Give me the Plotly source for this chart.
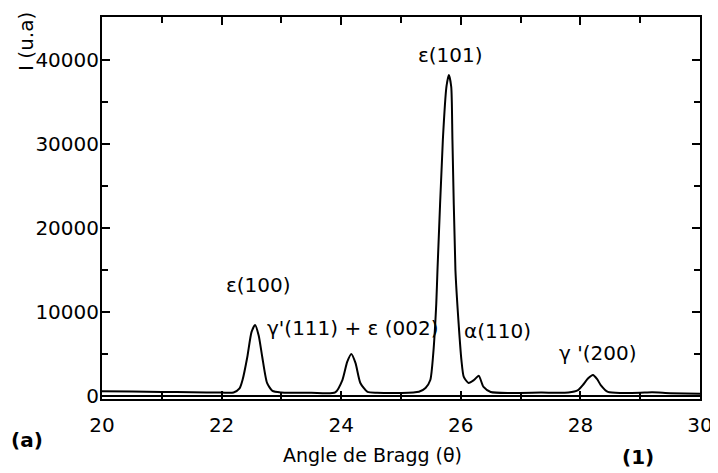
import plotly.graph_objects as go

# Diffraction pattern
angle = [20.00, 20.50, 21.00, 21.50, 22.00, 22.20, 22.30, 22.35, 22.43, 22.50, 22.56,
         22.62, 22.68, 22.76, 22.85, 23.00, 23.50, 23.90, 24.02, 24.10, 24.17, 24.24,
         24.32, 24.44, 24.60, 25.00, 25.30, 25.41, 25.49, 25.54, 25.59, 25.61, 25.70,
         25.76, 25.80, 25.84, 25.86, 25.91, 25.96, 26.01, 26.05, 26.13, 26.22, 26.30,
         26.38, 26.50, 26.83, 27.34, 27.80, 27.96, 28.04, 28.13, 28.21, 28.28, 28.34,
         28.46, 28.70, 29.00, 29.20, 29.50, 30.00]
intensity = [560, 520, 480, 440, 400, 420, 900, 1900, 4640, 7600, 8450,
             7200, 4640, 1550, 600, 420, 380, 420, 1900, 4050, 5000, 3900,
             1550, 480, 380, 360, 500, 950, 1900, 5100, 11000, 15000, 30500,
             36800, 38200, 36800, 30500, 15000, 9000, 4300, 2260, 1550, 1900, 2400,
             1070, 480, 360, 400, 420, 700, 1300, 2100, 2500, 2000, 1300,
             480, 360, 380, 430, 330, 250]

peak_labels = ["ε(100)", "γ'(111) + ε (002)", "ε(101)", "α(110)", "γ '(200)"]
label_x = [22.61, 24.20, 25.83, 26.62, 28.29]
label_y = [13200, 8100, 40600, 7700, 5100]

x_ticks = [20, 22, 24, 26, 28, 30]
y_ticks = [0, 10000, 20000, 30000, 40000]

FONT = "DejaVu Sans"

fig = go.Figure()
fig.add_trace(go.Scatter(
    x=angle, y=intensity, mode="lines",
    line=dict(color="black", width=2, shape="spline", smoothing=0.6),
    showlegend=False, hoverinfo="skip",
))

for t, x, y in zip(peak_labels, label_x, label_y):
    fig.add_annotation(x=x, y=y, text=t, showarrow=False, xanchor="center",
                       yanchor="middle", font=dict(family=FONT, size=20, color="black"))

fig.add_annotation(xref="paper", yref="paper", x=-0.127, y=0.935, text="I (u.a)",
                   textangle=-90, showarrow=False, xanchor="center", yanchor="middle",
                   font=dict(family=FONT, size=20, color="black"))
fig.add_annotation(xref="paper", yref="paper", x=0.453, y=-0.147, text="Angle de Bragg (θ)",
                   showarrow=False, xanchor="center", yanchor="middle",
                   font=dict(family=FONT, size=19, color="black"))
fig.add_annotation(xref="paper", yref="paper", x=-0.126, y=-0.107, text="<b>(a)</b>",
                   showarrow=False, xanchor="center", yanchor="middle",
                   font=dict(family=FONT, size=20, color="black"))
fig.add_annotation(xref="paper", yref="paper", x=0.896, y=-0.152, text="<b>(1)</b>",
                   showarrow=False, xanchor="center", yanchor="middle",
                   font=dict(family=FONT, size=20, color="black"))

fig.update_xaxes(
    range=[20, 30], tickvals=x_ticks, ticktext=[str(v) for v in x_ticks],
    ticks="inside", ticklen=8, tickwidth=1.5, tickcolor="black",
    minor=dict(dtick=1, ticks="inside", ticklen=6, tickcolor="black", tickwidth=1.5),
    showline=True, linecolor="black", linewidth=2, mirror="ticks",
    showgrid=False, zeroline=False, automargin=False, ticklabelstandoff=7,
    tickfont=dict(family=FONT, size=20, color="black"),
)
fig.update_yaxes(
    range=[-360, 45100], tickvals=y_ticks, ticktext=[str(v) for v in y_ticks],
    ticks="inside", ticklen=8, tickwidth=1.5, tickcolor="black",
    minor=dict(dtick=5000, ticks="inside", ticklen=6, tickcolor="black", tickwidth=1.5),
    showline=True, linecolor="black", linewidth=2, mirror="ticks",
    showgrid=False, zeroline=True, zerolinecolor="black", zerolinewidth=1.5,
    automargin=False, ticklabelstandoff=-3,
    tickfont=dict(family=FONT, size=20, color="black"),
)

# the page body adds an 8 px offset; size the figure so it fits the 718x473 window
fig.update_layout(
    width=710, height=465,
    margin=dict(l=94, r=18, t=9, b=74),
    paper_bgcolor="white", plot_bgcolor="white",
    font=dict(family=FONT, color="black"),
)

fig.write_html("out.html")
